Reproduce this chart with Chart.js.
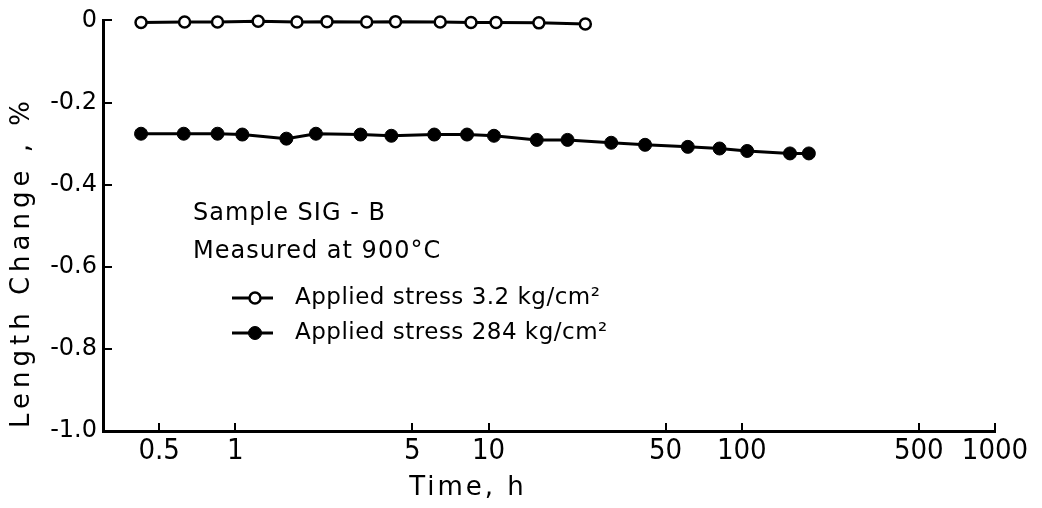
<!DOCTYPE html>
<html>
<head>
<meta charset="utf-8">
<script src="https://cdn.jsdelivr.net/npm/chart.js@4.4.1/dist/chart.umd.min.js"></script>
<style>
  html, body { margin: 0; padding: 0; background: #fff; }
</style>
</head>
<body>
<canvas id="chart" width="1042" height="508"></canvas>
<script>
// --- data ---
const timeLow = [0.424, 0.630, 0.850, 1.23, 1.75, 2.30, 3.30, 4.29, 6.44, 8.52, 10.7, 15.8, 24.1];
const changeLow = [-0.005, -0.004, -0.004, -0.002, -0.004, -0.003, -0.004, -0.003, -0.004, -0.005, -0.005, -0.006, -0.009];

const timeHigh = [0.424, 0.625, 0.850, 1.065, 1.59, 2.08, 3.12, 4.13, 6.10, 8.22, 10.5, 15.5, 20.5, 30.5, 41.5, 61.2, 81.7, 105, 155, 184];
const changeHigh = [-0.276, -0.276, -0.276, -0.278, -0.288, -0.276, -0.278, -0.281, -0.278, -0.278, -0.281, -0.291, -0.291, -0.298, -0.303, -0.308, -0.312, -0.318, -0.324, -0.324];

const seriesNames = ["Applied stress 3.2 kg/cm\u00b2", "Applied stress 284 kg/cm\u00b2"];
const noteLines = ["Sample SIG - B", "Measured at 900\u00b0C"];

const xTicks = [0.5, 1, 5, 10, 50, 100, 500, 1000];
const xTickLabels = ["0.5", "1", "5", "10", "50", "100", "500", "1000"];
const yTicks = [0, -0.2, -0.4, -0.6, -0.8, -1.0];
const yTickLabels = ["0", "-0.2", "-0.4", "-0.6", "-0.8", "-1.0"];

const xTitle = "Time, h";
const yTitle = "Length Change , %";

const toPoints = (xs, ys) => xs.map((x, i) => ({ x: x, y: ys[i] }));

// ticks pointing inward, axis titles, note text and legend
const decor = {
  id: "decor",
  afterDraw(chart) {
    const { ctx, chartArea: a, scales } = chart;
    const x = scales.x, y = scales.y;
    ctx.save();
    ctx.strokeStyle = "#000";
    ctx.lineWidth = 2;
    ctx.beginPath();
    xTicks.forEach(v => {
      const px = Math.round(x.getPixelForValue(v));
      ctx.moveTo(px, a.bottom);
      ctx.lineTo(px, a.bottom - 8);
    });
    yTicks.forEach(v => {
      const py = Math.round(y.getPixelForValue(v));
      ctx.moveTo(a.left, py);
      ctx.lineTo(a.left + 9, py);
    });
    ctx.stroke();

    ctx.fillStyle = "#000";
    ctx.textBaseline = "middle";
    ctx.textAlign = "center";
    ctx.font = '26px "DejaVu Sans"';
    ctx.letterSpacing = "3px";
    ctx.fillText(xTitle, 468, 488);
    ctx.letterSpacing = "5px";
    ctx.save();
    ctx.translate(22, 262);
    ctx.rotate(-Math.PI / 2);
    ctx.fillText(yTitle, 0, 0);
    ctx.restore();

    ctx.textAlign = "left";
    ctx.font = '24px "DejaVu Sans"';
    ctx.letterSpacing = "1px";
    ctx.fillText(noteLines[0], 193, 214);
    ctx.fillText(noteLines[1], 193, 252);

    ctx.font = '23px "DejaVu Sans"';
    ctx.letterSpacing = "0.5px";
    chart.data.datasets.forEach((ds, i) => {
      const ly = 298 + i * 35;
      ctx.lineWidth = 3;
      ctx.beginPath();
      ctx.moveTo(232, ly);
      ctx.lineTo(273, ly);
      ctx.stroke();
      ctx.beginPath();
      ctx.arc(255, ly, ds.pointRadius, 0, Math.PI * 2);
      ctx.fillStyle = ds.pointBackgroundColor;
      ctx.fill();
      ctx.lineWidth = ds.pointBorderWidth;
      ctx.stroke();
      ctx.fillStyle = "#000";
      ctx.fillText(ds.label, 295, ly);
    });
    ctx.restore();
  }
};

new Chart(document.getElementById("chart"), {
  type: "line",
  data: {
    datasets: [
      {
        label: seriesNames[0],
        data: toPoints(timeLow, changeLow),
        borderColor: "#000",
        borderWidth: 3,
        pointRadius: 5.5,
        pointBackgroundColor: "#fff",
        pointBorderColor: "#000",
        pointBorderWidth: 2.5,
        tension: 0,
        clip: false
      },
      {
        label: seriesNames[1],
        data: toPoints(timeHigh, changeHigh),
        borderColor: "#000",
        borderWidth: 3,
        pointRadius: 6.5,
        pointBackgroundColor: "#000",
        pointBorderColor: "#000",
        pointBorderWidth: 1,
        tension: 0,
        clip: false
      }
    ]
  },
  options: {
    responsive: false,
    animation: false,
    devicePixelRatio: 1,
    layout: { padding: { top: 18, right: 47, left: 0, bottom: 0 } },
    plugins: { legend: { display: false }, tooltip: { enabled: false } },
    scales: {
      x: {
        type: "logarithmic",
        min: 0.314,
        max: 1000,
        afterBuildTicks: s => { s.ticks = xTicks.map(v => ({ value: v })); },
        afterFit: s => { s.height = 77; },
        grid: { display: false, drawTicks: false },
        border: { display: true, color: "#000", width: 3 },
        ticks: {
          autoSkip: false,
          maxRotation: 0,
          padding: 3,
          color: "#000",
          font: { family: '"Liberation Sans Narrow", "DejaVu Sans Condensed", "DejaVu Sans"', size: 29 },
          callback: v => xTickLabels[xTicks.indexOf(v)]
        }
      },
      y: {
        min: -1,
        max: 0,
        afterBuildTicks: s => { s.ticks = yTicks.map(v => ({ value: v })); },
        afterFit: s => { s.width = 103; },
        grid: { display: false, drawTicks: false },
        border: { display: true, color: "#000", width: 3 },
        ticks: {
          padding: 6,
          color: "#000",
          font: { family: '"DejaVu Sans"', size: 24 },
          callback: (v, i) => yTickLabels[i]
        }
      }
    }
  },
  plugins: [decor]
});
</script>
</body>
</html>
